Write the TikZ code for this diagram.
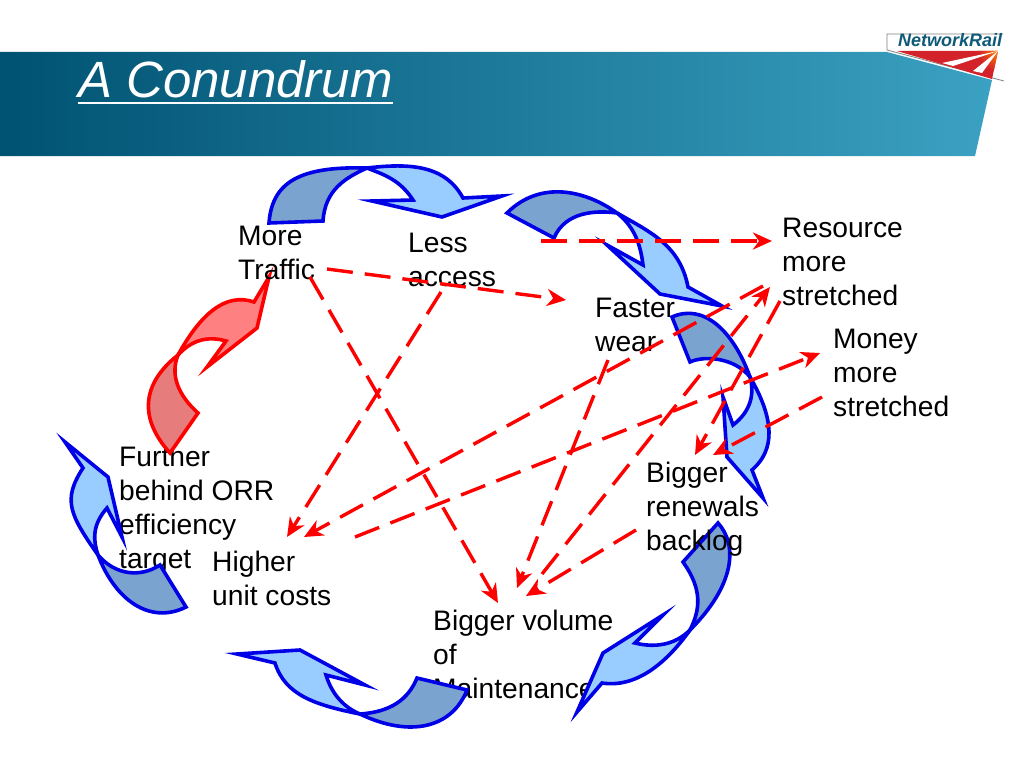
\documentclass[tikz,border=0pt]{standalone}
\usepackage{fontspec}
\setmainfont{Liberation Sans}
\usetikzlibrary{arrows.meta}
\definecolor{bannerdark}{HTML}{005272}
\definecolor{bannerlight}{HTML}{3BA1C2}
\definecolor{bandblue}{HTML}{0000E6}
\definecolor{bandlight}{HTML}{99CCFF}
\definecolor{banddark}{HTML}{7BA3CF}
\definecolor{redlight}{HTML}{FF8080}
\definecolor{reddark}{HTML}{E67C7C}
\definecolor{logoteal}{HTML}{0F5A78}
\definecolor{logored}{HTML}{D3222A}
\tikzset{
  labeltext/.style={anchor=north west, inner sep=0pt, align=left, font=\fontsize{28.2}{34}\selectfont},
  lightband/.style={draw=bandblue, fill=bandlight, line width=3.6pt, line join=miter},
  darkband/.style={draw=bandblue, fill=banddark, line width=3.6pt, line join=miter},
  redlightband/.style={draw=red, fill=redlight, line width=3.6pt},
  reddarkband/.style={draw=red, fill=reddark, line width=3.6pt},
  dashline/.style={draw=red, line width=3.4pt, dash pattern=on 26pt off 12pt, -{Stealth[length=19pt,width=17pt,inset=6pt]}}
}
\begin{document}
\begin{tikzpicture}[x=1pt,y=-1pt]
  \useasboundingbox (0,0) rectangle (1024,768);

  % banner
  \shade[left color=bannerdark, right color=bannerlight] (0,52) -- (887,52) -- (992,80) -- (975,156) -- (0,156) -- cycle;
  \node[anchor=base west, inner sep=0pt, text=white, font=\fontsize{51}{51}\selectfont\itshape] (title) at (78,97) {A Conundrum};
  \draw[white, line width=2.5pt] ([yshift=-6pt]title.base west) -- ([yshift=-6pt]title.base east);

  % logo
  \fill[white] (887,34) -- (1003,34) -- (1003,81) -- (887,50) -- cycle;
  \draw[gray, line width=0.8pt] (1003,34) -- (887,34) -- (887,50) -- (1004,81);
  \begin{scope}
    \clip (897,51) -- (998,51) -- (992,79) -- cycle;
    \fill[logored] (890,45) rectangle (1004,85);
    \shade[inner color=orange, outer color=logored] (998,51) circle (20);
  \end{scope}
  \fill[white] (998,51) -- (942,63) -- (953,66) -- cycle;
  \fill[white] (998,51) -- (973,71) -- (982,73) -- cycle;
  \node[anchor=base west, inner sep=0pt, text=logoteal, font=\fontsize{18}{18}\selectfont\bfseries\itshape] (logotext) at (898,47) {NetworkRail};

  % texts that lie under the bands
  \node[labeltext] (orr) at (119,446) {Further\\behind ORR\\efficiency\\target};
  \node[labeltext] (volume) at (433,610) {Bigger volume\\of\\Maintenance};

  % red band
  \filldraw[redlightband] (178,355) .. controls (200,315) and (225,292) .. (254,302) -- (269,277) -- (257,328) -- (207,367) -- (226,341) .. controls (205,335) and (190,342) .. (178,355) -- cycle;
  \filldraw[reddarkband] (170,453) .. controls (140,420) and (140,385) .. (178,355) .. controls (170,375) and (178,395) .. (198,413) -- cycle;

  % blue bands
  \filldraw[lightband] (367,168) .. controls (410,163) and (445,165) .. (463,198) -- (502,196) -- (442,217) -- (372,201) -- (413,200) .. controls (400,180) and (385,175) .. (367,168) -- cycle;
  \filldraw[darkband] (269,223) .. controls (272,182) and (300,166) .. (367,168) .. controls (345,178) and (325,190) .. (323,221) -- cycle;

  \filldraw[lightband] (617,213) .. controls (650,232) and (680,245) .. (688,287) -- (722,306) -- (660,294) -- (607,245) -- (643,265) .. controls (640,240) and (632,225) .. (617,213) -- cycle;
  \filldraw[darkband] (507,213) .. controls (540,180) and (585,190) .. (617,213) .. controls (595,210) and (565,212) .. (554,238) -- cycle;

  \filldraw[lightband] (750,377) .. controls (775,420) and (775,450) .. (752,470) -- (763,498) -- (727,457) -- (723,397) -- (733,425) .. controls (750,412) and (755,395) .. (750,377) -- cycle;
  \filldraw[darkband] (672,317) .. controls (703,303) and (733,330) .. (750,377) .. controls (735,358) and (705,355) .. (690,362) -- cycle;

  \filldraw[lightband] (690,630) .. controls (665,665) and (635,688) .. (602,683) -- (577,712) -- (603,653) -- (663,615) -- (635,643) .. controls (655,648) and (675,645) .. (690,630) -- cycle;
  \filldraw[darkband] (718,523) .. controls (738,545) and (735,585) .. (690,630) .. controls (700,610) and (703,590) .. (683,562) -- cycle;

  \filldraw[lightband] (360,714) .. controls (315,705) and (285,695) .. (275,663) -- (237,654) -- (300,650) -- (365,685) -- (326,675) .. controls (332,695) and (345,708) .. (360,714) -- cycle;
  \filldraw[darkband] (467,690) .. controls (452,728) and (410,738) .. (360,714) .. controls (390,712) and (408,700) .. (417,678) -- cycle;

  \filldraw[lightband] (98,555) .. controls (70,515) and (62,500) .. (83,468) -- (65,442) -- (108,477) -- (122,537) -- (107,508) .. controls (92,525) and (93,540) .. (98,555) -- cycle;
  \filldraw[darkband] (186,607) .. controls (150,625) and (115,600) .. (98,555) .. controls (115,575) and (140,578) .. (160,565) -- cycle;

  % texts
  \node[labeltext] (traffic) at (238,226) {More\\Traffic};
  \node[labeltext] (access) at (408,233) {Less\\access};
  \node[labeltext] (wear) at (595,298) {Faster\\wear};
  \node[labeltext] (resource) at (782,218) {Resource\\more\\stretched};
  \node[labeltext] (money) at (833,329) {Money\\more\\stretched};
  \node[labeltext] (renewals) at (646,462) {Bigger\\renewals\\backlog};
  \node[labeltext] (unitcosts) at (212,551) {Higher\\unit costs};

  % connector ends
  \coordinate (accessOut) at (541,241);
  \coordinate (resourceIn) at (772,241);
  \coordinate (trafficOut) at (327,269);
  \coordinate (wearIn) at (566,300);
  \coordinate (trafficDown) at (310,277);
  \coordinate (volumeLeft) at (498,603);
  \coordinate (accessDown) at (441,292);
  \coordinate (unitLeft) at (287,537);
  \coordinate (wearDown) at (608,360);
  \coordinate (volumeMid) at (517,588);
  \coordinate (resourceOut) at (763,286);
  \coordinate (unitRight) at (304,537);
  \coordinate (volumeOut) at (542,574);
  \coordinate (resourceLow) at (770,287);
  \coordinate (resourceDown) at (780,301);
  \coordinate (renewalsLeft) at (695,455);
  \coordinate (unitOut) at (355,537);
  \coordinate (moneyIn) at (820,353);
  \coordinate (moneyOut) at (822,397);
  \coordinate (renewalsRight) at (713,455);
  \coordinate (renewalsOut) at (636,530);
  \coordinate (volumeRight) at (526,596);

  % dashed connectors
  \foreach \a/\b in {accessOut/resourceIn, trafficOut/wearIn, trafficDown/volumeLeft, accessDown/unitLeft, wearDown/volumeMid, resourceOut/unitRight, volumeOut/resourceLow, resourceDown/renewalsLeft, unitOut/moneyIn, moneyOut/renewalsRight, renewalsOut/volumeRight} {
      \draw[dashline] (\a) -- (\b);
    }
\end{tikzpicture}
\end{document}
